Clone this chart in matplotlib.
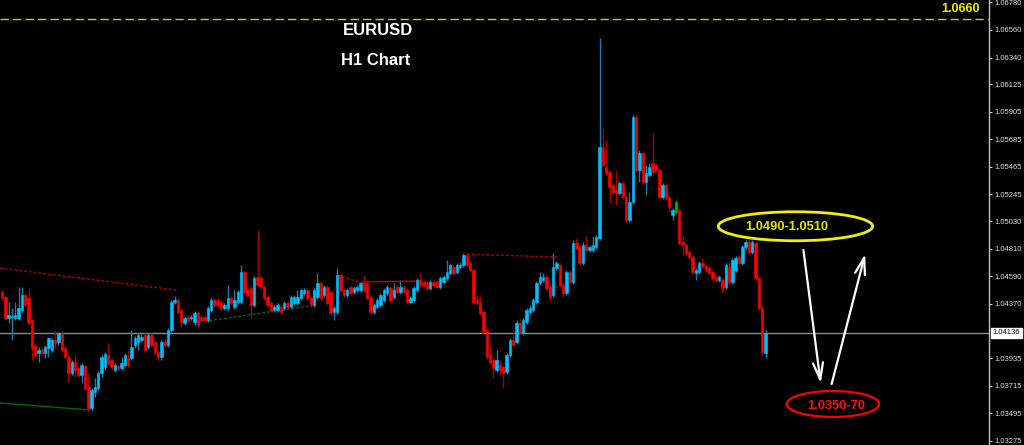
import numpy as np
import matplotlib.pyplot as plt
from matplotlib.patches import Ellipse

# EURUSD H1 candles (left to right)
opens = [
    1.04464, 1.04424, 1.04256, 1.04264, 1.04256, 1.04256, 1.04320, 1.04440, 1.04416, 1.04240, 1.04040, 1.03976, 1.04000,
    1.03976, 1.04016, 1.04000, 1.04080, 1.04064, 1.04136, 1.04016, 1.03944, 1.03816, 1.03904, 1.03856, 1.03800, 1.03872,
    1.03704, 1.03536, 1.03664, 1.03696, 1.03816, 1.03864, 1.03960, 1.03920, 1.03840, 1.03872, 1.03856, 1.03880, 1.03936,
    1.03936, 1.04040, 1.04064, 1.04080, 1.04120, 1.04024, 1.04120, 1.04064, 1.03984, 1.03944, 1.04064, 1.04040, 1.04160,
    1.04384, 1.04400, 1.04320, 1.04216, 1.04264, 1.04256, 1.04224, 1.04296, 1.04264, 1.04264, 1.04240, 1.04320, 1.04400,
    1.04400, 1.04384, 1.04336, 1.04336, 1.04416, 1.04344, 1.04384, 1.04384, 1.04624, 1.04480, 1.04496, 1.04360, 1.04584,
    1.04576,
    1.04504, 1.04424, 1.04376, 1.04320, 1.04320, 1.04344, 1.04336, 1.04376, 1.04344, 1.04376, 1.04376, 1.04416, 1.04456,
    1.04480, 1.04416, 1.04360, 1.04424, 1.04536, 1.04440, 1.04504, 1.04464, 1.04304, 1.04304, 1.04600, 1.04480, 1.04440,
    1.04504, 1.04464, 1.04480, 1.04480, 1.04536, 1.04536, 1.04424, 1.04304, 1.04344, 1.04360, 1.04400, 1.04456, 1.04496,
    1.04424, 1.04504, 1.04464, 1.04504, 1.04480, 1.04384, 1.04400, 1.04480, 1.04560, 1.04544, 1.04536, 1.04496, 1.04544,
    1.04544, 1.04504, 1.04544, 1.04576, 1.04616, 1.04664, 1.04624, 1.04664, 1.04680, 1.04760, 1.04696, 1.04640, 1.04400,
    1.04376, 1.04304, 1.04160, 1.03960, 1.03920, 1.03840, 1.03880, 1.03864, 1.03824, 1.03960, 1.04080, 1.04064, 1.04216,
    1.04136, 1.04224, 1.04304, 1.04320, 1.04384, 1.04536, 1.04560, 1.04584, 1.04504, 1.04440, 1.04656, 1.04680, 1.04520,
    1.04456, 1.04624, 1.04544, 1.04856, 1.04824, 1.04696, 1.04840, 1.04800, 1.04800, 1.04824, 1.04896, 1.05624, 1.05464,
    1.05424, 1.05320, 1.05280, 1.05256, 1.05336, 1.05224, 1.05040, 1.05184, 1.05864, 1.05440, 1.05576, 1.05344, 1.05400,
    1.05496, 1.05480, 1.05440, 1.05224, 1.05320, 1.05224, 1.05080, 1.05104, 1.05120, 1.04864, 1.04840, 1.04784, 1.04744,
    1.04616, 1.04624, 1.04696, 1.04672, 1.04656, 1.04624, 1.04584, 1.04560, 1.04560, 1.04504, 1.04664, 1.04544, 1.04640,
    1.04744, 1.04696, 1.04824, 1.04864, 1.04784, 1.04856, 1.04576, 1.04336, 1.03976,
]
highs = [
    1.04480, 1.04440, 1.04384, 1.04336, 1.04384, 1.04504, 1.04504, 1.04456, 1.04496, 1.04256, 1.04056, 1.04024, 1.04016,
    1.04040, 1.04104, 1.04096, 1.04160, 1.04144, 1.04152, 1.04032, 1.03960, 1.03920, 1.03960, 1.03872, 1.03896, 1.03888,
    1.03816, 1.03696, 1.03776, 1.03832, 1.03960, 1.03984, 1.04056, 1.03936, 1.03896, 1.03888, 1.03944, 1.03976, 1.04000,
    1.04160, 1.04112, 1.04136, 1.04128, 1.04136, 1.04136, 1.04136, 1.04080, 1.04000, 1.04080, 1.04096, 1.04176, 1.04400,
    1.04432, 1.04416, 1.04336, 1.04272, 1.04280, 1.04280, 1.04312, 1.04312, 1.04280, 1.04280, 1.04352, 1.04416, 1.04416,
    1.04416, 1.04400, 1.04376, 1.04520, 1.04432, 1.04480, 1.04480, 1.04680, 1.04640, 1.04496, 1.04512, 1.04592, 1.04960,
    1.04592,
    1.04520, 1.04440, 1.04392, 1.04360, 1.04376, 1.04360, 1.04392, 1.04392, 1.04440, 1.04440, 1.04480, 1.04496, 1.04496,
    1.04496, 1.04432, 1.04496, 1.04616, 1.04552, 1.04520, 1.04520, 1.04480, 1.04352, 1.04656, 1.04616, 1.04496, 1.04496,
    1.04520, 1.04512, 1.04520, 1.04552, 1.04600, 1.04552, 1.04440, 1.04376, 1.04416, 1.04456, 1.04496, 1.04520, 1.04512,
    1.04536, 1.04520, 1.04560, 1.04520, 1.04496, 1.04432, 1.04512, 1.04576, 1.04624, 1.04560, 1.04552, 1.04560, 1.04560,
    1.04560, 1.04592, 1.04600, 1.04720, 1.04696, 1.04680, 1.04696, 1.04704, 1.04776, 1.04776, 1.04712, 1.04656, 1.04440,
    1.04432, 1.04320, 1.04176, 1.04040, 1.03936, 1.04000, 1.03920, 1.03880, 1.03976, 1.04096, 1.04160, 1.04240, 1.04240,
    1.04256, 1.04336, 1.04360, 1.04416, 1.04552, 1.04624, 1.04616, 1.04600, 1.04520, 1.04776, 1.04712, 1.04696, 1.04536,
    1.04640, 1.04640, 1.04880, 1.04896, 1.04840, 1.04864, 1.04912, 1.04840, 1.04912, 1.04920, 1.06496, 1.05776, 1.05680,
    1.05440, 1.05336, 1.05440, 1.05352, 1.05352, 1.05240, 1.05264, 1.05880, 1.05880, 1.05600, 1.05592, 1.05480, 1.05496,
    1.05736, 1.05496, 1.05456, 1.05336, 1.05336, 1.05240, 1.05136, 1.05200, 1.05136, 1.04920, 1.04856, 1.04800, 1.04760,
    1.04656, 1.04712, 1.04736, 1.04688, 1.04672, 1.04640, 1.04600, 1.04600, 1.04576, 1.04696, 1.04704, 1.04736, 1.04752,
    1.04760, 1.04840, 1.04880, 1.04880, 1.04880, 1.04872, 1.04592, 1.04352, 1.04160,
]
lows = [
    1.04400, 1.04240, 1.04216, 1.04080, 1.04240, 1.04240, 1.04304, 1.04344, 1.04200, 1.03920, 1.03944, 1.03904, 1.03960,
    1.03936, 1.03944, 1.03984, 1.04016, 1.04040, 1.03984, 1.03928, 1.03744, 1.03800, 1.03784, 1.03784, 1.03736, 1.03680,
    1.03504, 1.03520, 1.03624, 1.03680, 1.03784, 1.03840, 1.03880, 1.03848, 1.03824, 1.03840, 1.03840, 1.03864, 1.03864,
    1.03920, 1.04016, 1.04000, 1.04064, 1.03984, 1.04008, 1.04024, 1.03968, 1.03920, 1.03920, 1.04024, 1.04024, 1.04144,
    1.04368, 1.04288, 1.04176, 1.04200, 1.04224, 1.04240, 1.04200, 1.04184, 1.04224, 1.04224, 1.04224, 1.04304, 1.04344,
    1.04344, 1.04320, 1.04320, 1.04320, 1.04360, 1.04328, 1.04368, 1.04368, 1.04448, 1.04424, 1.04256, 1.04344, 1.04504,
    1.04488,
    1.04400, 1.04344, 1.04304, 1.04304, 1.04304, 1.04288, 1.04320, 1.04328, 1.04328, 1.04360, 1.04360, 1.04400, 1.04440,
    1.04400, 1.04344, 1.04344, 1.04408, 1.04400, 1.04424, 1.04360, 1.04280, 1.04240, 1.04288, 1.04464, 1.04424, 1.04424,
    1.04440, 1.04448, 1.04464, 1.04464, 1.04464, 1.04400, 1.04288, 1.04288, 1.04328, 1.04344, 1.04384, 1.04440, 1.04384,
    1.04408, 1.04448, 1.04448, 1.04448, 1.04368, 1.04368, 1.04384, 1.04464, 1.04504, 1.04504, 1.04480, 1.04480, 1.04504,
    1.04488, 1.04488, 1.04528, 1.04560, 1.04600, 1.04600, 1.04608, 1.04648, 1.04664, 1.04664, 1.04624, 1.04368, 1.04360,
    1.04280, 1.04128, 1.03928, 1.03888, 1.03776, 1.03824, 1.03800, 1.03696, 1.03808, 1.03944, 1.04024, 1.04048, 1.04120,
    1.04120, 1.04208, 1.04288, 1.04304, 1.04368, 1.04520, 1.04544, 1.04480, 1.04400, 1.04424, 1.04640, 1.04504, 1.04424,
    1.04440, 1.04528, 1.04528, 1.04800, 1.04680, 1.04680, 1.04784, 1.04784, 1.04784, 1.04808, 1.04880, 1.05464, 1.05400,
    1.05176, 1.05248, 1.05160, 1.05240, 1.05208, 1.05024, 1.05024, 1.05168, 1.05424, 1.05344, 1.05328, 1.05240, 1.05384,
    1.05408, 1.05424, 1.05208, 1.05208, 1.05200, 1.05104, 1.05040, 1.05088, 1.04840, 1.04760, 1.04760, 1.04728, 1.04608,
    1.04560, 1.04608, 1.04656, 1.04624, 1.04600, 1.04560, 1.04544, 1.04544, 1.04464, 1.04488, 1.04528, 1.04528, 1.04624,
    1.04680, 1.04680, 1.04808, 1.04768, 1.04768, 1.04560, 1.04320, 1.03968, 1.03936,
]
closes = [
    1.04416, 1.04256, 1.04280, 1.04272, 1.04280, 1.04336, 1.04440, 1.04360, 1.04216, 1.04016, 1.03960, 1.04000, 1.03976,
    1.04024, 1.04096, 1.04080, 1.04056, 1.04136, 1.04000, 1.03944, 1.03816, 1.03904, 1.03840, 1.03800, 1.03880, 1.03696,
    1.03536, 1.03680, 1.03704, 1.03816, 1.03944, 1.03968, 1.03896, 1.03864, 1.03880, 1.03856, 1.03896, 1.03960, 1.03880,
    1.04024, 1.04096, 1.04120, 1.04104, 1.04000, 1.04120, 1.04040, 1.03984, 1.03944, 1.04064, 1.04040, 1.04160, 1.04384,
    1.04400, 1.04304, 1.04224, 1.04256, 1.04240, 1.04264, 1.04296, 1.04200, 1.04240, 1.04240, 1.04336, 1.04400, 1.04360,
    1.04360, 1.04336, 1.04360, 1.04416, 1.04376, 1.04400, 1.04464, 1.04624, 1.04464, 1.04440, 1.04360, 1.04576, 1.04520,
    1.04504,
    1.04416, 1.04360, 1.04320, 1.04344, 1.04360, 1.04304, 1.04376, 1.04344, 1.04424, 1.04424, 1.04424, 1.04480, 1.04480,
    1.04416, 1.04360, 1.04480, 1.04536, 1.04416, 1.04504, 1.04376, 1.04296, 1.04336, 1.04600, 1.04480, 1.04440, 1.04480,
    1.04456, 1.04496, 1.04504, 1.04536, 1.04480, 1.04416, 1.04304, 1.04360, 1.04400, 1.04440, 1.04480, 1.04504, 1.04400,
    1.04480, 1.04464, 1.04504, 1.04464, 1.04384, 1.04416, 1.04496, 1.04560, 1.04520, 1.04520, 1.04496, 1.04544, 1.04520,
    1.04504, 1.04576, 1.04584, 1.04624, 1.04680, 1.04616, 1.04680, 1.04680, 1.04760, 1.04680, 1.04640, 1.04384, 1.04376,
    1.04296, 1.04144, 1.03944, 1.03904, 1.03856, 1.03920, 1.03840, 1.03816, 1.03960, 1.04080, 1.04040, 1.04216, 1.04136,
    1.04240, 1.04320, 1.04336, 1.04400, 1.04536, 1.04584, 1.04584, 1.04496, 1.04424, 1.04664, 1.04696, 1.04520, 1.04456,
    1.04624, 1.04544, 1.04856, 1.04816, 1.04696, 1.04840, 1.04800, 1.04824, 1.04840, 1.04904, 1.05624, 1.05480, 1.05416,
    1.05304, 1.05264, 1.05256, 1.05336, 1.05224, 1.05040, 1.05184, 1.05864, 1.05440, 1.05576, 1.05344, 1.05416, 1.05464,
    1.05424, 1.05440, 1.05224, 1.05320, 1.05216, 1.05144, 1.05120, 1.05184, 1.04856, 1.04840, 1.04776, 1.04744, 1.04624,
    1.04640, 1.04696, 1.04672, 1.04640, 1.04616, 1.04576, 1.04560, 1.04584, 1.04496, 1.04680, 1.04544, 1.04720, 1.04736,
    1.04696, 1.04824, 1.04864, 1.04784, 1.04864, 1.04576, 1.04336, 1.03984, 1.04136,
]
green_bars = [203]

price_ticks = [1.06780, 1.06560, 1.06340, 1.06125, 1.05905, 1.05685, 1.05465, 1.05245,
               1.05030, 1.04810, 1.04590, 1.04370, 1.03935, 1.03715, 1.03495, 1.03275]
bid_price = 1.04136
target_price = 1.06648
target_label = '1.0660'
upper_zone = '1.0490-1.0510'
lower_zone = '1.0350-70'

# trend lines as (bar0, price0, bar1, price1)
red_dotted = [(-0.6, 1.04656, 52.4, 1.04480), (101.0, 1.04600, 108.4, 1.04536),
              (138.6, 1.04768, 167.2, 1.04744)]
red_solid = [(108.4, 1.04544, 126.0, 1.04552)]
green_solid = [(-0.6, 1.03576, 26.5, 1.03520)]
green_dotted = [(59.6, 1.04224, 92.8, 1.04352)]

BULL, BEAR = '#00BFFF', '#FF0000'
BULL_WICK, BEAR_WICK = '#1A7EA6', '#A80000'

fig = plt.figure(figsize=(10.24, 4.45), dpi=100, facecolor='black')
ax = fig.add_axes([0, 0, 989 / 1024, 1])
ax.set_facecolor('black')

x = np.arange(len(opens))
o = np.array(opens)
c = np.array(closes)
body_col = np.where(c >= o, BULL, BEAR).astype(object)
wick_col = np.where(c >= o, BULL_WICK, BEAR_WICK).astype(object)
for i in green_bars:
    body_col[i] = '#00C000'
    wick_col[i] = '#008000'

ax.axhline(bid_price, color='#8A8A8A', lw=1, zorder=1)
ax.vlines(x, lows, highs, colors=list(wick_col), lw=1, zorder=2)
ax.bar(x, np.maximum(np.abs(c - o), 0.00002), bottom=np.minimum(o, c), width=0.72,
       color=list(body_col), edgecolor=list(body_col), linewidth=0.4, zorder=3)

for x0, p0, x1, p1 in red_dotted:
    ax.plot([x0, x1], [p0, p1], color='#B00000', lw=1, ls=(0, (2, 1.5)), zorder=2)
for x0, p0, x1, p1 in red_solid:
    ax.plot([x0, x1], [p0, p1], color='#C00000', lw=1, zorder=2)
for x0, p0, x1, p1 in green_solid:
    ax.plot([x0, x1], [p0, p1], color='#006A00', lw=1, zorder=2)
for x0, p0, x1, p1 in green_dotted:
    ax.plot([x0, x1], [p0, p1], color='#006A00', lw=1, ls=(0, (2, 1.5)), zorder=2)

ax.axhline(target_price, color='#D0D000', lw=1, ls=(0, (6, 3)), zorder=2)
ax.text(0.971, 0.98, target_label, transform=ax.transAxes, color='#F0F000',
        fontsize=9, fontweight='bold', family='Liberation Sans', ha='center', va='center')

ax.text(0.382, 0.931, 'EURUSD', transform=ax.transAxes, color='white',
        fontsize=12, fontweight='bold', family='Liberation Sans', ha='center', va='center')
ax.text(0.380, 0.863, 'H1 Chart', transform=ax.transAxes, color='white',
        fontsize=12, fontweight='bold', family='Liberation Sans', ha='center', va='center')

# target zones
ax.add_patch(Ellipse((239.0, 1.04990), 46.5, 0.00232, fill=False, ec='#F0F000', lw=2, zorder=4))
ax.text(236.5, 1.04984, upper_zone, color='#E6E600', fontsize=9.3, fontweight='bold',
        family='Liberation Sans', ha='center', va='center', zorder=5)
ax.add_patch(Ellipse((250.3, 1.03568), 27.8, 0.00208, fill=False, ec='#FF0000', lw=1.6, zorder=4))
ax.text(251.2, 1.03552, lower_zone, color='#FF1010', fontsize=9.3, fontweight='bold',
        family='Liberation Sans', ha='center', va='center', zorder=5)

arrow = dict(arrowstyle='->,head_length=0.6,head_width=0.18', color='white', lw=1.6,
             mutation_scale=20, shrinkA=0, shrinkB=0)
ax.annotate('', xy=(246.6, 1.03734), xytext=(241.4, 1.04800), arrowprops=arrow, zorder=5)
ax.annotate('', xy=(260.0, 1.04768), xytext=(249.9, 1.03728), arrowprops=arrow, zorder=5)

ax.set_xlim(-0.6, 297.3)
ax.set_ylim(1.0324, 1.0680)
ax.set_xticks([])
ax.yaxis.tick_right()
ax.set_yticks(price_ticks, [f'{p:.5f}' for p in price_ticks])
ax.tick_params(axis='y', colors='#D0D0D0', labelsize=5.5, length=2.5, width=0.8, pad=1.5,
               labelcolor='#E0E0E0')
for lab in ax.get_yticklabels():
    lab.set_family('Liberation Sans')
for side in ['top', 'left', 'bottom']:
    ax.spines[side].set_visible(False)
ax.spines['right'].set_color('#C0C0C0')
ax.spines['right'].set_linewidth(1)

ax.annotate(f'{bid_price:.5f}', xy=(1, bid_price), xycoords=('axes fraction', 'data'),
            xytext=(2.5, 0), textcoords='offset points', ha='left', va='center',
            fontsize=5.5, family='Liberation Sans', color='black',
            bbox=dict(boxstyle='square,pad=0.25', fc='white', ec='white'))

fig.savefig('out.png', dpi=100, facecolor='black')
